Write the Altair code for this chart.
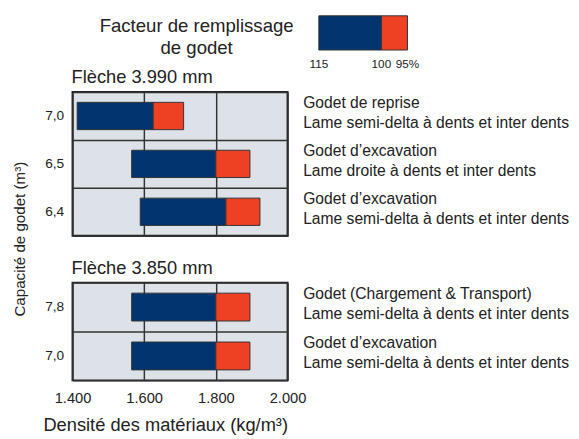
import altair as alt
import pandas as pd

# ---------------- data ----------------
x_ticks = [1400, 1600, 1800, 2000]

# Flèche 3.990 mm
p1_caps = ["7,0", "6,5", "6,4"]
p1_d115 = [1413, 1565, 1589]
p1_d100 = [1625, 1800, 1828]
p1_d95 = [1710, 1895, 1923]
p1_desc = [
    "Godet de reprise\nLame semi-delta à dents et inter dents",
    "Godet d’excavation\nLame droite à dents et inter dents",
    "Godet d’excavation\nLame semi-delta à dents et inter dents",
]

# Flèche 3.850 mm
p2_caps = ["7,8", "7,0"]
p2_d115 = [1565, 1565]
p2_d100 = [1800, 1800]
p2_d95 = [1895, 1895]
p2_desc = [
    "Godet (Chargement & Transport)\nLame semi-delta à dents et inter dents",
    "Godet d’excavation\nLame semi-delta à dents et inter dents",
]

legend_steps = [115, 100, 95]
legend_labels = ["115", "100", "95%"]
legend_title = ["Facteur de remplissage\nde godet"]

# ---------------- style ----------------
BLUE = "#023470"
RED = "#ee4023"
BG = "#dce2e8"
DARK = "#222222"
FONT = "Liberation Sans"
W = 220


def panel(caps, d115, d100, d95, desc, title, height, bottom, ytitle):
    df = pd.DataFrame(dict(cap=caps, d115=d115, d100=d100, d95=d95, desc=desc))
    base = alt.Chart(df)
    xscale = alt.Scale(domain=[1400, 2000], nice=False, zero=False)
    xkw = dict(values=x_ticks, grid=True, gridColor="#333333", gridWidth=1.5,
               ticks=False, domain=False)
    if bottom:
        xkw.update(labels=True, labelFontSize=15, labelColor=DARK, labelPadding=11,
                   labelFlush=False,
                   labelExpr="replace(format(datum.value, ','), ',', '.')",
                   title="Densité des matériaux (kg/m³)", titleAnchor="end",
                   titleFontSize=18.7, titleFontWeight="normal", titleColor=DARK,
                   titlePadding=10)
    else:
        xkw.update(labels=False, title=None)
    xaxis = alt.Axis(**xkw)
    ykw = dict(grid=True, gridColor="#333333", gridWidth=1.5, tickBand="extent",
               ticks=False, domain=False, labelFontSize=14, labelColor=DARK,
               labelPadding=9)
    if ytitle:
        ykw.update(title="Capacité de godet (m³)", titleFontSize=15.5,
                   titleFontWeight="normal", titleColor=DARK, titleY=150,
                   titlePadding=18)
    else:
        ykw.update(title=None)
    y = alt.Y("cap:N", sort=caps, scale=alt.Scale(paddingInner=0, paddingOuter=0),
              axis=alt.Axis(**ykw))
    blue = base.mark_bar(height={"band": 0.57}, color=BLUE, stroke="#333333",
                         strokeWidth=1).encode(
        x=alt.X("d115:Q", scale=xscale, axis=xaxis), x2="d100:Q", y=y)
    red = base.mark_bar(height={"band": 0.57}, color=RED, stroke="#333333",
                        strokeWidth=1).encode(
        x=alt.X("d100:Q", scale=xscale, axis=xaxis), x2="d95:Q", y=y)
    txt = base.mark_text(align="left", baseline="middle", lineBreak="\n",
                         lineHeight=20, fontSize=16, color=DARK, dy=-13).encode(
        x=alt.value(W + 16), y=y, text="desc:N")
    return alt.layer(blue, red, txt).properties(
        width=W, height=height,
        view=alt.ViewBackground(fill=BG, stroke=DARK, strokeWidth=2),
        title=alt.TitleParams(title, anchor="start", frame="group", dx=-1,
                              fontSize=18.7, fontWeight="normal", color=DARK,
                              offset=-1.5),
    )


p1 = panel(p1_caps, p1_d115, p1_d100, p1_d95, p1_desc, "Flèche 3.990 mm", 147, False, True)
p2 = panel(p2_caps, p2_d115, p2_d100, p2_d95, p2_desc, "Flèche 3.850 mm", 100, True, False)

# ---------------- legend ----------------
leg_scale = alt.Scale(domain=legend_steps, range=[252, 316, 342.7], nice=False, zero=False)
seg_df = pd.DataFrame(dict(start=legend_steps[:-1], end=legend_steps[1:],
                           seg=["a", "b"], k=["k", "k"]))
lab_df = pd.DataFrame(dict(v=legend_steps, lab=legend_labels))
ttl_df = pd.DataFrame(dict(t=legend_title))

leg_bar = alt.Chart(seg_df).mark_bar(stroke="#333333", strokeWidth=1).encode(
    x=alt.X("start:Q", scale=leg_scale, axis=None),
    x2="end:Q",
    y=alt.Y("k:N", axis=None, scale=alt.Scale(paddingInner=0, paddingOuter=0)),
    color=alt.Color("seg:N", scale=alt.Scale(domain=["a", "b"], range=[BLUE, RED]), legend=None),
)
leg_lab = alt.Chart(lab_df).mark_text(baseline="middle", fontSize=12, color=DARK).encode(
    x=alt.X("v:Q", scale=leg_scale, axis=None), y=alt.value(49), text="lab:N")
leg_ttl = alt.Chart(ttl_df).mark_text(baseline="middle", align="center", lineBreak="\n",
                                      lineHeight=22, fontSize=19, color=DARK).encode(
    x=alt.value(127), y=alt.value(11), text="t:N")

legend = alt.layer(leg_bar, leg_lab, leg_ttl).properties(
    width=W, height=35,
    view=alt.ViewBackground(fill="transparent", stroke="transparent"),
)

inner = alt.vconcat(p1, p2, spacing=48, bounds="flush").resolve_scale(
    x="independent", y="independent")
chart = alt.vconcat(legend, inner, spacing=43, bounds="flush").resolve_scale(
    x="independent", y="independent").properties(
    padding={"left": 3, "top": 2, "right": 0, "bottom": 0},
).configure(font=FONT).configure_view(stroke="transparent")

chart.save("out.html", embed_options={"renderer": "svg", "actions": False})
